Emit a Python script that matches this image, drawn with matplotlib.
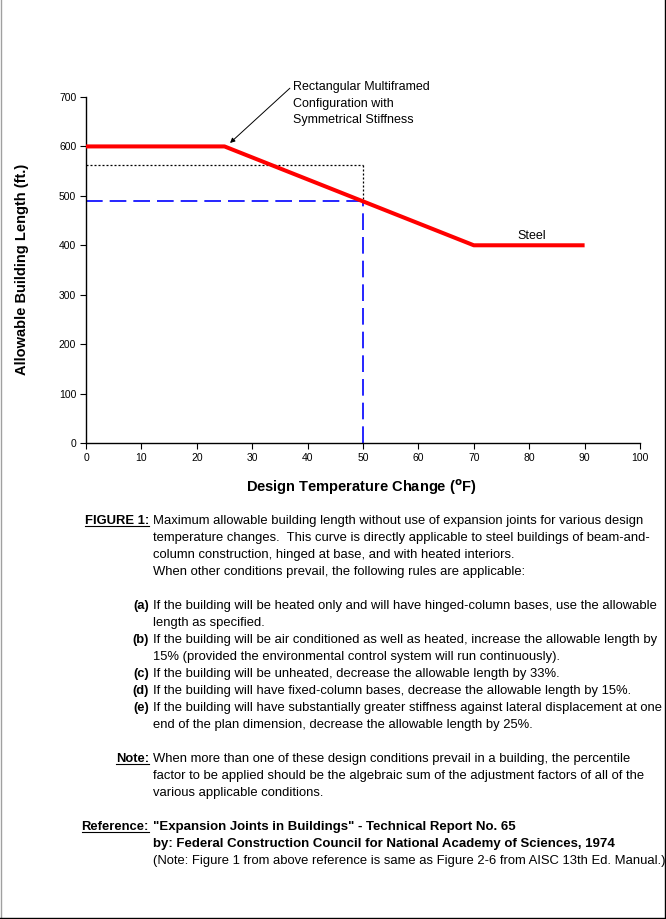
import matplotlib
matplotlib.use('Agg')
import matplotlib.pyplot as plt
from matplotlib.lines import Line2D
from matplotlib import font_manager

plt.rcParams['font.family'] = ['Liberation Sans', 'DejaVu Sans']

### data

temp = [0, 25, 70, 90]              # design temperature change (F)
allow_len = [600, 600, 400, 400]    # allowable building length (ft.)

design_temp = 50
design_len = 489                    # length at design temp (blue dashed)
ac_len = 562                        # +15% air conditioned (black dotted)

x_ticks = list(range(0, 101, 10))
y_ticks = list(range(0, 701, 100))

annot_lines = ['Rectangular Multiframed', 'Configuration with', 'Symmetrical Stiffness']

# (label, text, bold?) - one entry per printed row, label only on first row
notes = [
    ('FIGURE 1:', 'Maximum allowable building length without use of expansion joints for various design', False),
    ('', 'temperature changes.  This curve is directly applicable to steel buildings of beam-and-', False),
    ('', 'column construction, hinged at base, and with heated interiors.', False),
    ('', 'When other conditions prevail, the following rules are applicable:', False),
    (None, '', False),
    ('(a)', 'If the building will be heated only and will have hinged-column bases, use the allowable', False),
    ('', 'length as specified.', False),
    ('(b)', 'If the building will be air conditioned as well as heated, increase the allowable length by', False),
    ('', '15% (provided the environmental control system will run continuously).', False),
    ('(c)', 'If the building will be unheated, decrease the allowable length by 33%.', False),
    ('(d)', 'If the building will have fixed-column bases, decrease the allowable length by 15%.', False),
    ('(e)', 'If the building will have substantially greater stiffness against lateral displacement at one', False),
    ('', 'end of the plan dimension, decrease the allowable length by 25%.', False),
    (None, '', False),
    ('Note:', 'When more than one of these design conditions prevail in a building, the percentile', False),
    ('', 'factor to be applied should be the algebraic sum of the adjustment factors of all of the', False),
    ('', 'various applicable conditions.', False),
    (None, '', False),
    ('Reference:', '"Expansion Joints in Buildings" - Technical Report No. 65', True),
    ('', 'by: Federal Construction Council for National Academy of Sciences, 1974', True),
    ('', '(Note: Figure 1 from above reference is same as Figure 2-6 from AISC 13th Ed. Manual.)', False),
]
underlined = ['FIGURE 1:', 'Note:', 'Reference:']

W, H = 666, 919
fig = plt.figure(figsize=(W / 100, H / 100), dpi=100)
fig.patch.set_facecolor('white')

def px(x, y):
    return x / W, 1 - y / H

ax = fig.add_axes([86 / W, 1 - 443 / H, 554 / W, 346 / H])
ax.plot(temp, allow_len, color='#ff0000', lw=2.9, solid_capstyle='butt', zorder=3)

# design-point guides
ax.plot([0, design_temp], [ac_len, ac_len], color='black', lw=0.9, dashes=(1.6, 1.6))
ax.plot([design_temp, design_temp], [ac_len, design_len], color='black', lw=0.9, dashes=(1.6, 1.6))
ax.plot([0, design_temp], [design_len, design_len], color='#0000ff', lw=1.2, dashes=(10, 4.2))
ax.plot([design_temp, design_temp], [0, design_len], color='#0000ff', lw=1.2, dashes=(10, 4.2))

ax.set_xlim(0, 100)
ax.set_ylim(0, 700)
ax.set_xticks(x_ticks)
ax.set_yticks(y_ticks)
ax.tick_params(direction='out', length=4, width=0.8, labelsize=7.5, pad=3)
for s in ['top', 'right']:
    ax.spines[s].set_visible(False)
for s in ['left', 'bottom']:
    ax.spines[s].set_linewidth(1.0)

ax.annotate('\n'.join(annot_lines), xy=(26.0, 607), xytext=(37.3, 732),
            fontsize=9, va='top', ha='left', linespacing=1.5,
            arrowprops=dict(arrowstyle='-|>', color='black', lw=0.7,
                            mutation_scale=7, shrinkA=0, shrinkB=0,
                            relpos=(0, 0.9)),
            annotation_clip=False)
ax.text(80.5, 418, 'Steel', fontsize=9, ha='center', va='center')

fig.text(*px(22, 269), 'Allowable Building Length (ft.)', rotation=90,
         ha='center', va='center', fontsize=10.5, fontweight='bold')
fig.text(*px(361, 487), r'Design Temperature Change ($^{\mathbf{o}}$F)',
         ha='center', va='center', fontsize=10.5, fontweight='bold')

# notes block
narrow = 'Liberation Sans Narrow'
try:
    font_manager.findfont(narrow, fallback_to_default=False)
    body_fam = [narrow, 'Liberation Sans']
    body_size = 10.8
except Exception:
    body_fam = ['Liberation Sans']
    body_size = 9.4

renderer = fig.canvas.get_renderer()
y0, dy = 521, 17
for i, (lab, txt, bold) in enumerate(notes):
    y = y0 + i * dy
    if lab is None:
        continue
    fig.text(*px(153, y), txt, ha='left', va='center', family=body_fam,
             fontsize=body_size * (1.02 if bold else 1.0),
             fontweight='bold' if bold else 'normal')
    if lab:
        t = fig.text(*px(149, y), lab, ha='right', va='center', family=body_fam,
                     fontsize=body_size, fontweight='bold')
        if lab in underlined:
            bb = t.get_window_extent(renderer)
            fig.add_artist(Line2D([bb.x0 / W, bb.x1 / W], [(bb.y0 + 1) / H] * 2,
                                  color='black', lw=0.8))

# page border
fig.add_artist(Line2D([0.5 / W, 0.5 / W], [0, 1], color='#a0a0a0', lw=1))
fig.add_artist(Line2D([664.5 / W, 664.5 / W], [0, 1], color='black', lw=1))
fig.add_artist(Line2D([0, 665 / W], [1.5 / H, 1.5 / H], color='black', lw=1))

fig.savefig('out.png', dpi=100)
